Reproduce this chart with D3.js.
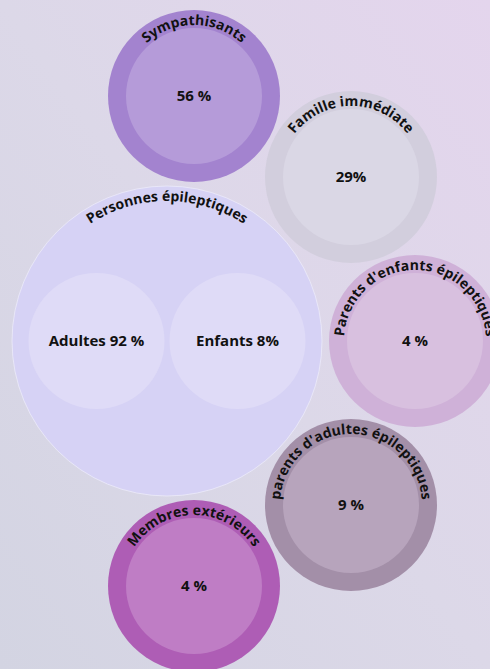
<!DOCTYPE html>
<html>
<head>
<meta charset="utf-8">
<script src="https://cdn.jsdelivr.net/npm/d3@7"></script>
<style>
  html, body { margin: 0; padding: 0; }
  body { width: 490px; height: 669px; overflow: hidden; }
  svg { display: block; font-family: "Open Sans", "Noto Sans", sans-serif; }
</style>
</head>
<body>
<script>
// ---- data ----
const categories = ["Sympathisants", "Famille immédiate", "Personnes épileptiques",
  "Parents d'enfants épileptiques", "parents d'adultes épileptiques", "Membres extérieurs"];
const valueLabels = ["56 %", "29%", "", "4 %", "9 %", "4 %"];
const subCategories = ["Adultes", "Enfants"];
const subValueLabels = ["92 %", "8%"];

// ---- layout / style ----
const W = 490, H = 669;
const centers = [[194, 96], [351, 177], [167, 341], [415, 341], [351, 505], [194, 586]];
const outerR = [86, 86, 155, 86, 86, 86];
const outerFill = ["#a383cf", "#d2cedd", "#d6d2f5", "#cfb1d8", "#a38fa8", "#ae5db5"];
const innerFill = ["#b59bd9", "#dad7e5", "#dfdbf7", "#d8c0df", "#b7a4bc", "#bf7dc5"];
const innerR = 68;

const svg = d3.select("body").append("svg").attr("width", W).attr("height", H);
const defs = svg.append("defs");
const grad = defs.append("linearGradient").attr("id", "bg")
  .attr("x1", "0").attr("y1", "1").attr("x2", "1").attr("y2", "0");
grad.append("stop").attr("offset", "0%").attr("stop-color", "#d3d4e2");
grad.append("stop").attr("offset", "50%").attr("stop-color", "#dcd8e8");
grad.append("stop").attr("offset", "100%").attr("stop-color", "#e4d5ed");
svg.append("rect").attr("width", W).attr("height", H).attr("fill", "url(#bg)");

const nodes = categories.map((c, i) => ({name: c, label: valueLabels[i], cx: centers[i][0], cy: centers[i][1], r: outerR[i], i}));

const g = svg.selectAll("g.node").data(nodes).join("g").attr("class", "node");

g.append("circle")
  .attr("cx", d => d.cx).attr("cy", d => d.cy).attr("r", d => d.r)
  .attr("fill", d => outerFill[d.i])
  .attr("stroke", d => d.i === 2 ? "#ecebfa" : "none")
  .attr("stroke-width", 0.8);

// inner circles for single nodes
g.filter(d => d.i !== 2).append("circle")
  .attr("cx", d => d.cx).attr("cy", d => d.cy).attr("r", innerR)
  .attr("fill", d => innerFill[d.i]);

// arc paths for labels
g.each(function(d) {
  const rr = d.r - 15;
  const path = d3.path();
  path.moveTo(d.cx, d.cy + rr);
  path.arc(d.cx, d.cy, rr, Math.PI / 2, Math.PI / 2 + 2 * Math.PI - 0.0001, false);
  defs.append("path").attr("id", "arc" + d.i).attr("d", path.toString());
});

g.append("text")
  .attr("font-size", 14).attr("font-weight", 700).attr("fill", "#111")
  .append("textPath")
  .attr("href", d => "#arc" + d.i)
  .attr("startOffset", "50%")
  .attr("text-anchor", "middle")
  .text(d => d.name);

g.filter(d => d.label).append("text")
  .attr("x", d => d.cx).attr("y", d => d.cy)
  .attr("dy", "0.35em")
  .attr("text-anchor", "middle")
  .attr("font-size", 15).attr("font-weight", 700).attr("fill", "#111")
  .text(d => d.label);

// sub circles inside "Personnes épileptiques"
const big = nodes[2];
const xSub = d3.scalePoint().domain(subCategories).range([big.cx - 70.5, big.cx + 70.5]);
const sub = svg.selectAll("g.sub").data(subCategories).join("g").attr("class", "sub");
sub.append("circle")
  .attr("cx", d => xSub(d)).attr("cy", big.cy).attr("r", innerR)
  .attr("fill", innerFill[2]);
sub.append("text")
  .attr("x", d => xSub(d)).attr("y", big.cy).attr("dy", "0.35em")
  .attr("text-anchor", "middle")
  .attr("font-size", 15).attr("font-weight", 700).attr("fill", "#111")
  .text((d, i) => d + " " + subValueLabels[i]);
</script>
</body>
</html>
